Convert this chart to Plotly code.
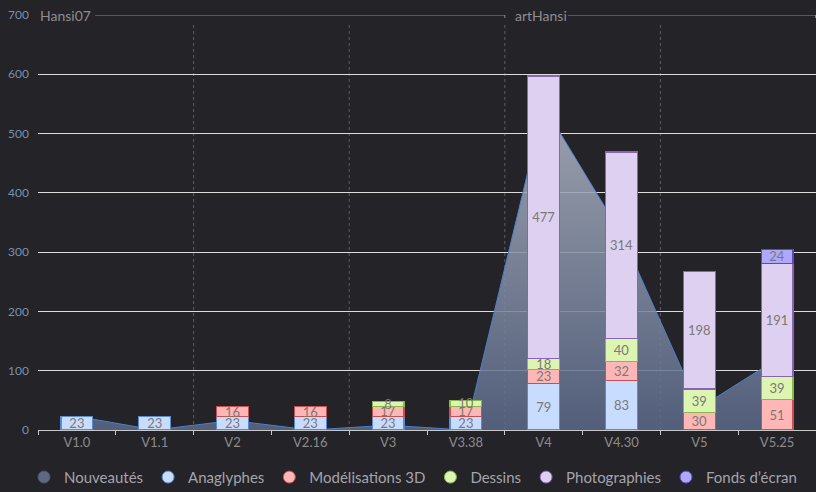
import plotly.graph_objects as go

versions = ["V1.0", "V1.1", "V2", "V2.16", "V3", "V3.38", "V4", "V4.30", "V5", "V5.25"]
nouveautes = [23, 0, 16, 0, 8, 0, 547, 330, 37, 120]
anaglyphes = [23, 23, 23, 23, 23, 23, 79, 83, 0, 0]
modelisations = [0, 0, 16, 16, 17, 17, 23, 32, 30, 51]
dessins = [0, 0, 0, 0, 8, 10, 18, 40, 39, 39]
photographies = [0, 0, 0, 0, 0, 0, 477, 314, 198, 191]
fonds = [0, 0, 0, 0, 0, 0, 0, 0, 0, 24]
y_ticks = [0, 100, 200, 300, 400, 500, 600]
groups = ["Hansi07", "artHansi"]

BG = "#242328"
FONT = "Lato, Open Sans, sans-serif"

series = [
    ("Anaglyphes", anaglyphes, "#c8dcff", "#5a8ad0"),
    ("Modélisations 3D", modelisations, "#ffb6b6", "#c85050"),
    ("Dessins", dessins, "#dcf6b2", "#88b848"),
    ("Photographies", photographies, "#ddd0f0", "#8a64b4"),
    ("Fonds d’écran", fonds, "#b0a8ff", "#5a48c8"),
]

fig = go.Figure()

# area (behind bars)
fig.add_trace(go.Scatter(
    x=versions, y=nouveautes, mode="lines", fill="tozeroy",
    line=dict(color="#4a80c8", width=1),
    fillgradient=dict(type="vertical", start=0, stop=550,
                      colorscale=[[0, "rgba(90,104,136,0.86)"], [1, "rgba(176,182,196,0.86)"]]),
    showlegend=False, hoverinfo="skip", xaxis="x", yaxis="y",
))

for name, vals, col, border in series:
    fig.add_trace(go.Bar(
        x=versions, y=[v if v else None for v in vals],
        text=[str(v) if v else "" for v in vals],
        textposition="inside", insidetextanchor="middle", textangle=0,
        constraintext="none",
        textfont=dict(color="#7c7874", size=13, family=FONT),
        marker=dict(color=col, line=dict(color=border, width=1.2)),
        width=0.41, showlegend=False, name=name, xaxis="x", yaxis="y2",
    ))

# legend entries (circle markers)
legend_items = [("Nouveautés", "#5c6a86", "#4a5670")] + [(s[0], s[2], s[3]) for s in series]
for name, col, border in legend_items:
    fig.add_trace(go.Scatter(
        x=[None], y=[None], mode="markers", name=name,
        marker=dict(symbol="circle", size=12, color=col, line=dict(color=border, width=1)),
        xaxis="x", yaxis="y",
    ))

# dotted group separators
for xv in [1.5, 3.5, 5.5, 7.5]:
    fig.add_shape(type="line", xref="x", yref="y", x0=xv, x1=xv, y0=0, y1=688,
                  line=dict(color="#5e5e62", width=1, dash="dot"), layer="below")

# group header lines
LC = "#8e8e90"
fig.add_shape(type="line", xref="x", yref="y", x0=0.235, x1=5.5, y0=700, y1=700,
              line=dict(color=LC, width=1))
fig.add_shape(type="line", xref="x", yref="y", x0=5.5, x1=5.5, y0=700, y1=695,
              line=dict(color=LC, width=1))
fig.add_shape(type="line", xref="x", yref="y", x0=6.31, x1=9.5, y0=700, y1=700,
              line=dict(color=LC, width=1))
fig.add_shape(type="line", xref="x", yref="y", x0=9.495, x1=9.495, y0=700, y1=695,
              line=dict(color=LC, width=1))
fig.add_annotation(text=groups[0], xref="x", yref="y", x=-0.5, y=700, xanchor="left",
                   yanchor="middle", showarrow=False, font=dict(color="#8e8e90", size=14, family=FONT))
fig.add_annotation(text=groups[1], xref="x", yref="y", x=5.6, y=700, xanchor="left",
                   yanchor="middle", showarrow=False, font=dict(color="#8e8e90", size=14, family=FONT))

fig.update_layout(
    width=816, height=492, paper_bgcolor=BG, plot_bgcolor=BG,
    margin=dict(l=38, r=0, t=15, b=62, autoexpand=False),
    barmode="stack",
    font=dict(family=FONT, color="#9a9a9a"),
    xaxis=dict(type="category", categoryorder="array", categoryarray=versions,
               range=[-0.5, 9.5], tickson="boundaries", ticks="outside", ticklen=4,
               tickcolor="#c8c8c8", showline=True, linecolor="#c8c8c8", linewidth=1,
               showgrid=False, zeroline=False,
               tickfont=dict(size=13, color="#8c8c8c", family=FONT)),
    yaxis=dict(range=[0, 700], tickvals=y_ticks, showgrid=True, gridcolor="#dcdcdc",
               gridwidth=1, zeroline=False, showline=False, ticks="", ticklabelstandoff=8,
               tickfont=dict(size=12, color="#7890ae", family=FONT)),
    yaxis2=dict(range=[0, 700], overlaying="y", side="left", tickvals=[700], ticktext=["700"],
                showgrid=False, zeroline=False, showline=False, ticks="", ticklabelstandoff=8,
                tickfont=dict(size=12, color="#7890ae", family=FONT)),
    legend=dict(orientation="h", x=0.482, xanchor="center", y=-0.114, yanchor="middle",
                traceorder="normal",
                font=dict(size=15, color="#a4a4ac", family=FONT), itemwidth=30,
                bgcolor="rgba(0,0,0,0)"),
)

fig.write_html("out.html")
